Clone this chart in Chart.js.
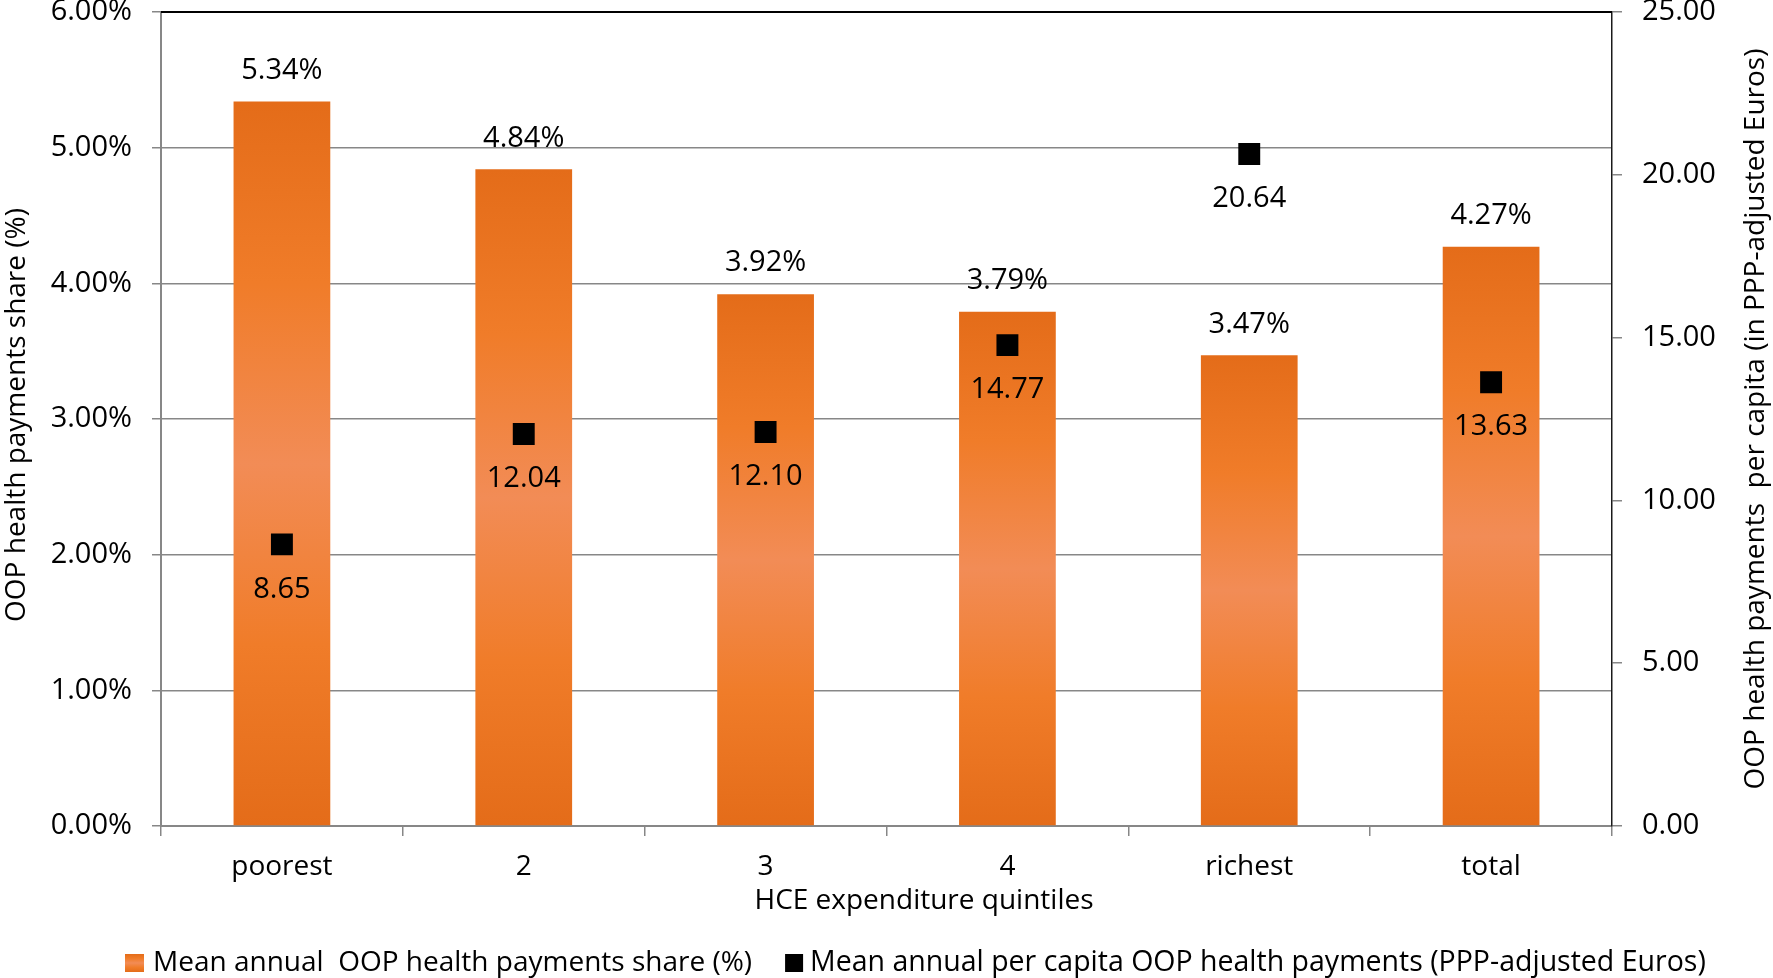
<!DOCTYPE html>
<html lang="en">
<head>
    <meta charset="UTF-8">
    <title>OOP health payments by HCE expenditure quintile</title>
    <script src="https://cdn.jsdelivr.net/npm/chart.js"></script>
    <style>
        body {
            margin: 0;
            background: #fff;
            font-family: "Open Sans", sans-serif;
        }
        #chart {
            display: block;
        }
    </style>
</head>
<body>
    <canvas id="chart" width="1773" height="978"></canvas>
    <script>
        // data
        const quintiles = ['poorest', '2', '3', '4', 'richest', 'total'];
        const shareValues = [5.34, 4.84, 3.92, 3.79, 3.47, 4.27];       // % of HCE
        const perCapitaValues = [8.65, 12.04, 12.10, 14.77, 20.64, 13.63]; // PPP-adjusted Euros
        const shareTicks = [0, 1, 2, 3, 4, 5, 6];
        const euroTicks = [0, 5, 10, 15, 20, 25];

        const shareLabel = 'Mean annual  OOP health payments share (%)';
        const euroLabel = 'Mean annual per capita OOP health payments (PPP-adjusted Euros)';
        const xTitle = 'HCE expenditure quintiles';
        const leftTitle = 'OOP health payments share (%)';
        const rightTitle = 'OOP health payments  per capita (in PPP-adjusted Euros)';

        const FONT = '"Open Sans", sans-serif';
        const GRID = '#878787';

        // orange bar fill, dark at both ends and pale in the middle (like the office gradient)
        function orangeGradient(ctx, top, bottom) {
            const g = ctx.createLinearGradient(0, top, 0, bottom);
            g.addColorStop(0, '#E46C19');
            g.addColorStop(0.25, '#F07C29');
            g.addColorStop(0.5, '#F28C56');
            g.addColorStop(0.75, '#F07C29');
            g.addColorStop(1, '#E46C19');
            return g;
        }

        function barFill(context) {
            const chart = context.chart;
            if (!chart.chartArea || context.dataIndex === undefined) return '#EC7524';
            const y = chart.scales.y;
            const v = context.raw;
            return orangeGradient(chart.ctx, y.getPixelForValue(v), y.getPixelForValue(0));
        }

        // value labels, axis titles, frame line and legend
        const extras = {
            id: 'extras',
            afterDatasetsDraw(chart) {
                const ctx = chart.ctx;
                ctx.save();
                ctx.fillStyle = '#000';
                ctx.textAlign = 'center';
                ctx.textBaseline = 'middle';
                ctx.font = '29px ' + FONT;
                chart.getDatasetMeta(0).data.forEach((bar, i) => {
                    ctx.fillText(shareValues[i].toFixed(2) + '%', bar.x, bar.y - 31);
                });
                chart.getDatasetMeta(1).data.forEach((pt, i) => {
                    ctx.fillText(perCapitaValues[i].toFixed(2), pt.x, pt.y + 45);
                });
                ctx.restore();
            },
            afterDraw(chart) {
                const ctx = chart.ctx;
                const area = chart.chartArea;
                ctx.save();

                // black line along the top of the plot
                ctx.strokeStyle = '#000';
                ctx.lineWidth = 2;
                ctx.beginPath();
                ctx.moveTo(area.left, area.top);
                ctx.lineTo(area.right, area.top);
                ctx.stroke();

                ctx.fillStyle = '#000';
                ctx.textAlign = 'center';
                ctx.textBaseline = 'middle';
                ctx.font = '28px ' + FONT;

                // x title sits a little right of centre in the original
                ctx.fillText(xTitle, 924, 901);

                const midY = (area.top + area.bottom) / 2;
                ctx.save();
                ctx.translate(17, midY - 4);
                ctx.rotate(-Math.PI / 2);
                ctx.fillText(leftTitle, 0, 0);
                ctx.restore();

                ctx.save();
                ctx.translate(1756, midY);
                ctx.rotate(-Math.PI / 2);
                ctx.fillText(rightTitle, 0, 0);
                ctx.restore();

                // legend
                ctx.textAlign = 'left';
                const ly = 963;
                let x = 125;
                ctx.fillStyle = orangeGradient(ctx, ly - 9, ly + 9);
                ctx.fillRect(x, ly - 9, 19, 18);
                x += 28;
                ctx.fillStyle = '#000';
                ctx.fillText(shareLabel, x, ly);
                x += ctx.measureText(shareLabel).width + 33;
                ctx.fillRect(x, ly - 9, 18, 18);
                x += 25;
                ctx.font = '28.5px ' + FONT;
                ctx.fillText(euroLabel, x, ly);

                ctx.restore();
            }
        };

        new Chart(document.getElementById('chart'), {
            data: {
                labels: quintiles,
                datasets: [
                    {
                        type: 'bar',
                        label: shareLabel,
                        data: shareValues,
                        backgroundColor: barFill,
                        yAxisID: 'y',
                        barPercentage: 0.4,
                        categoryPercentage: 1,
                        order: 2
                    },
                    {
                        type: 'line',
                        label: euroLabel,
                        data: perCapitaValues,
                        yAxisID: 'y1',
                        showLine: false,
                        pointStyle: 'rect',
                        pointRadius: 15.5,
                        pointHoverRadius: 15.5,
                        pointBackgroundColor: '#000',
                        pointBorderColor: '#000',
                        pointBorderWidth: 0,
                        order: 1
                    }
                ]
            },
            options: {
                responsive: false,
                animation: false,
                devicePixelRatio: 1,
                layout: { autoPadding: false, padding: { top: 12, bottom: 0, left: 0, right: 0 } },
                plugins: {
                    legend: { display: false },
                    tooltip: { enabled: false }
                },
                scales: {
                    x: {
                        offset: true,
                        grid: {
                            offset: true,
                            drawOnChartArea: false,
                            drawTicks: true,
                            tickLength: 10,
                            color: GRID,
                            lineWidth: 1.5
                        },
                        border: { color: GRID, width: 2 },
                        ticks: {
                            color: '#000',
                            padding: 14,
                            maxRotation: 0,
                            font: { family: FONT, size: 28 }
                        },
                        afterFit(scale) {
                            scale.height = 152;
                            scale.paddingLeft = 0;
                            scale.paddingRight = 0;
                        }
                    },
                    y: {
                        position: 'left',
                        min: 0,
                        max: 6,
                        afterBuildTicks(scale) {
                            scale.ticks = shareTicks.map(v => ({ value: v }));
                        },
                        grid: {
                            color: GRID,
                            lineWidth: 1.5,
                            drawTicks: true,
                            tickLength: 9
                        },
                        border: { color: GRID, width: 2 },
                        ticks: {
                            color: '#000',
                            padding: 20,
                            font: { family: FONT, size: 29 },
                            callback: v => v.toFixed(2) + '%'
                        },
                        afterFit(scale) {
                            scale.width = 161;
                            scale.paddingTop = 0;
                            scale.paddingBottom = 0;
                        }
                    },
                    y1: {
                        position: 'right',
                        min: 0,
                        max: 25,
                        afterBuildTicks(scale) {
                            scale.ticks = euroTicks.map(v => ({ value: v }));
                        },
                        grid: {
                            drawOnChartArea: false,
                            drawTicks: true,
                            tickLength: 10,
                            color: GRID,
                            lineWidth: 1.5
                        },
                        border: { color: '#1a1a1a', width: 1.5 },
                        ticks: {
                            color: '#000',
                            padding: 20,
                            font: { family: FONT, size: 29 },
                            callback: v => v.toFixed(2)
                        },
                        afterFit(scale) {
                            scale.width = 161;
                            scale.paddingTop = 0;
                            scale.paddingBottom = 0;
                        }
                    }
                }
            },
            plugins: [extras]
        });
    </script>
</body>
</html>
